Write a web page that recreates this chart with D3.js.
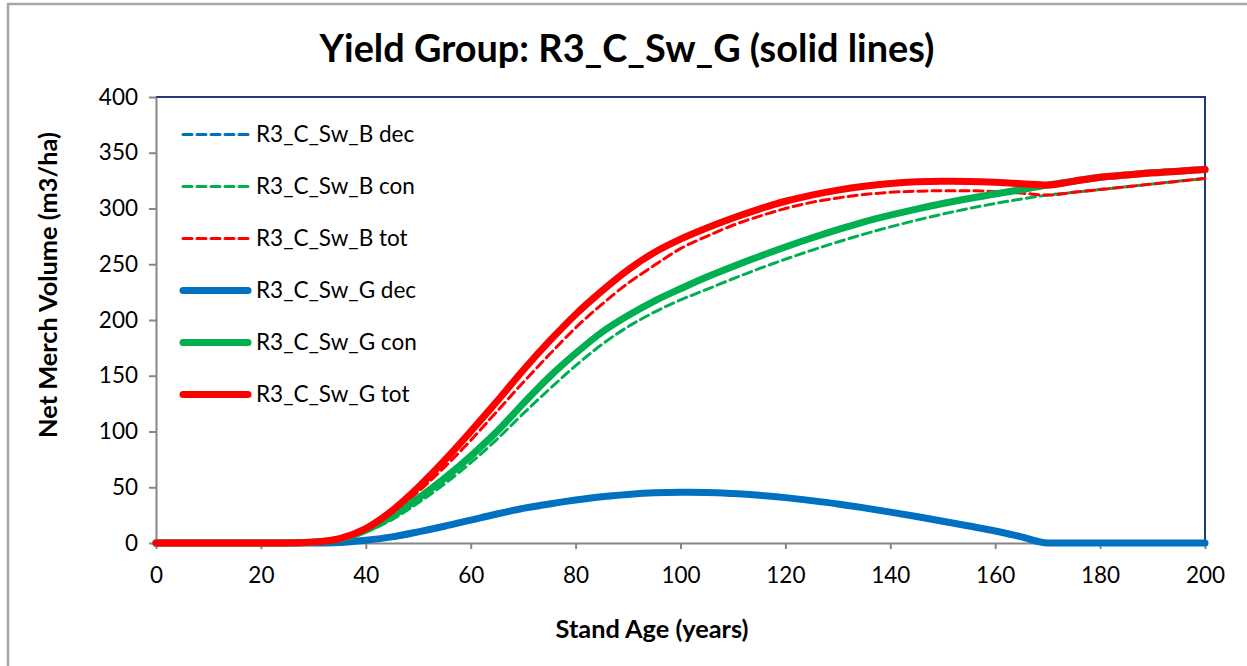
<!DOCTYPE html>
<html>
<head>
<meta charset="utf-8">
<script src="https://cdn.jsdelivr.net/npm/d3@7"></script>
<style>
  html, body { margin: 0; padding: 0; background: #fff; }
  svg { display: block; }
  text { font-family: Lato, "Open Sans", sans-serif; fill: #000; }
</style>
</head>
<body>
<svg id="chart" width="1247" height="666"></svg>
<script>
// ---- data ----
const ages = [0,5,10,15,20,25,30,35,40,45,50,55,60,65,70,75,80,85,90,95,100,105,110,115,120,125,130,135,140,145,150,155,160,165,170,175,180,185,190,195,200];

const bDec = [0,0,0,0,0,0,0,0.5,2.5,5.5,9.5,14.5,20,25,30,34,37.5,40.5,43,44.5,45,45,44,42.5,40.5,38,35,31.5,27.5,23.5,19.5,15,10.5,5,0,0,0,0,0,0,0];
const bCon = [0,0,0,0,0,0,0.5,3,10,21,36,53,72,93,116,138,159,178,194,207,218,227.5,237,246,254.5,262.5,270,277,283.5,289.5,295,300,304.5,308.5,312,314.5,317,319.5,322,324.5,327];
const bTot = [0,0,0,0,0,0,0.6,3.5,12.5,27,46,68,92,118,144,169,193,214,233,249,264,275,285,293,300,305.5,309.5,312.5,314.5,315.5,316,316,315.2,313.8,312,314.5,317,319.5,322,324.5,327];

const gDec = [0,0,0,0,0,0,0,0.5,2.5,5.5,10,15,20.5,26,31,35,38.5,41.5,43.5,45,45.5,45.3,44.3,42.8,40.7,38,35,31.5,27.7,23.7,19.5,15.2,10.8,5.5,0,0,0,0,0,0,0];
const gCon = [0,0,0,0,0,0,0.7,3.5,11.5,24,40,58,78,100,125,149,170,189,204,217,228,238.5,248,257,265.5,273.5,281,288,294,299.5,304.5,309,313,317,321,324.5,328,330,332,333.5,335];
const gTot = [0,0,0,0,0,0,0.8,4,13,29,50,74,100,127,155,181,205,226,245,260.5,272.5,282.5,291.5,299.5,306.5,312,316.5,320,322.5,324,324.5,324.3,323.5,322.3,321,324.5,328,330,332,333.5,335];

const seriesNames = ["R3_C_Sw_B dec","R3_C_Sw_B con","R3_C_Sw_B tot","R3_C_Sw_G dec","R3_C_Sw_G con","R3_C_Sw_G tot"];
const seriesValues = [bDec, bCon, bTot, gDec, gCon, gTot];
const seriesColors = ["#0070C0","#00B050","#FF0000","#0070C0","#00B050","#FF0000"];
const seriesDashed = [true,true,true,false,false,false];

const xTicks = [0,20,40,60,80,100,120,140,160,180,200];
const yTicks = [0,50,100,150,200,250,300,350,400];

const titleText = "Yield Group: R3_C_Sw_G (solid lines)";
const xTitle = "Stand Age (years)";
const yTitle = "Net Merch Volume (m3/ha)";

// ---- layout ----
const svg = d3.select("#chart");
const L = 156, R = 1205, T = 97, B = 543;

const x = d3.scaleLinear().domain([0,200]).range([L,R]);
const y = d3.scaleLinear().domain([0,400]).range([B,T]);

// outer chart border
svg.append("rect").attr("x",8).attr("y",4).attr("width",1260).attr("height",680)
  .attr("fill","none").attr("stroke","#a6a6a6").attr("stroke-width",2.5);

// plot area border (top/right navy)
svg.append("path").attr("d",`M${L},${T}H${R}V${B}`).attr("fill","none")
  .attr("stroke","#1F3A7A").attr("stroke-width",2);

// axes
const xAxis = svg.append("g").attr("transform",`translate(0,${B})`)
  .call(d3.axisBottom(x).tickValues(xTicks).tickSize(6).tickSizeOuter(0).tickPadding(14));
const yAxis = svg.append("g").attr("transform",`translate(${L},0)`)
  .call(d3.axisLeft(y).tickValues(yTicks).tickSize(7).tickSizeOuter(0).tickPadding(11));
[xAxis,yAxis].forEach(a=>{
  a.select(".domain").attr("stroke","#868686").attr("stroke-width",2);
  a.selectAll(".tick line").attr("stroke","#868686").attr("stroke-width",2);
  a.selectAll(".tick text").attr("font-family","Lato, sans-serif").attr("font-size",22.5).attr("fill","#000");
});
xAxis.selectAll(".tick text").attr("dy","0.9em");

// lines
const line = d3.line().curve(d3.curveMonotoneX);
seriesValues.forEach((vals,i)=>{
  svg.append("path")
    .attr("d", line(ages.map((a,j)=>[x(a), y(vals[j])])))
    .attr("fill","none")
    .attr("stroke",seriesColors[i])
    .attr("stroke-width", seriesDashed[i] ? 3 : 7)
    .attr("stroke-dasharray", seriesDashed[i] ? "9,5" : null)
    .attr("stroke-linecap","round")
    .attr("stroke-linejoin","round");
});

// legend
const legY0 = 134.5, legDY = 52;
seriesNames.forEach((n,i)=>{
  const yy = legY0 + i*legDY;
  svg.append("line").attr("x1",183).attr("x2",248).attr("y1",yy).attr("y2",yy)
    .attr("stroke",seriesColors[i])
    .attr("stroke-width", seriesDashed[i] ? 3 : 7)
    .attr("stroke-dasharray", seriesDashed[i] ? "9,5" : null)
    .attr("stroke-linecap","round");
  svg.append("text").attr("x",256).attr("y",yy).attr("dy","0.35em")
    .attr("font-size",22.5).text(n);
});

// title
function fit(sel, w){
  const cur = sel.node().getComputedTextLength();
  const fs = parseFloat(sel.attr("font-size"));
  sel.attr("font-size", fs*w/cur);
}
const t = svg.append("text").attr("x",627).attr("y",62).attr("text-anchor","middle")
  .attr("font-weight","bold").attr("font-size",33).text(titleText);
fit(t, 615);

const xt = svg.append("text").attr("x",652).attr("y",638).attr("text-anchor","middle")
  .attr("font-weight","bold").attr("font-size",22).text(xTitle);
fit(xt, 193);

const yt = svg.append("text").attr("transform","translate(57,285) rotate(-90)")
  .attr("text-anchor","middle").attr("font-weight","bold").attr("font-size",22).text(yTitle);
fit(yt, 306);
</script>
</body>
</html>
